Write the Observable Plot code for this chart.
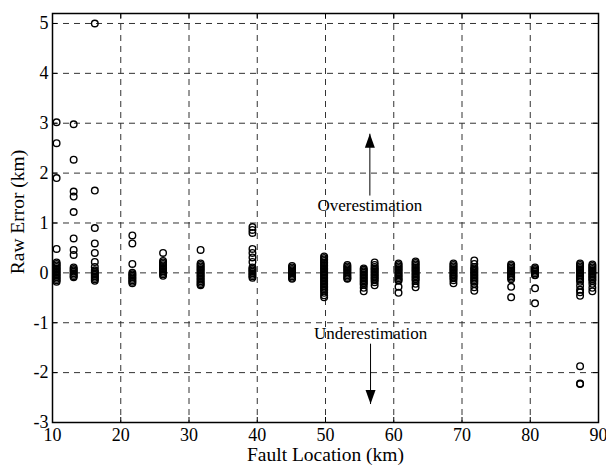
<!DOCTYPE html>
<html>
<head>
<meta charset="utf-8">
<script src="https://cdn.jsdelivr.net/npm/d3@7"></script>
<script src="https://cdn.jsdelivr.net/npm/@observablehq/plot@0.6"></script>
<style>
  html, body { margin: 0; padding: 0; background: white; }
</style>
</head>
<body>
<div id="chart"></div>
<script>
const xTicks = [10, 20, 30, 40, 50, 60, 70, 80, 90];
const yTicks = [-3, -2, -1, 0, 1, 2, 3, 4, 5];
const xLabel = "Fault Location (km)";
const yLabel = "Raw Error (km)";

const locations = [10.6, 13.1, 16.2, 21.7, 26.2, 31.7, 39.3, 45.1, 49.8, 53.2, 55.6, 57.2, 60.7, 63.2, 68.75, 71.8, 77.2, 80.7, 87.3, 89.1];

const errors = [
  [3.02, 2.6, 1.9, 0.48, 0.21, 0.18, 0.15, 0.12, 0.09, 0.06, 0.03, 0, -0.03, -0.06, -0.09, -0.12, -0.15, -0.18],
  [2.98, 2.27, 1.63, 1.53, 1.22, 0.69, 0.46, 0.36, 0.11, 0.08, 0.05, 0.02, -0.01, -0.04, -0.07, -0.09],
  [5.0, 1.65, 0.9, 0.59, 0.4, 0.22, 0.12, 0.05, 0.02, -0.01, -0.04, -0.07, -0.1, -0.13, -0.16],
  [0.75, 0.59, 0.18, 0.0, -0.03, -0.06, -0.09, -0.12, -0.15, -0.18, -0.21],
  [0.4, 0.24, 0.21, 0.18, 0.15, 0.12, 0.09, 0.06, 0.03, 0, -0.03, -0.06],
  [0.46, 0.19, 0.16, 0.13, 0.1, 0.07, 0.04, 0.01, -0.02, -0.05, -0.08, -0.11, -0.14, -0.17, -0.2, -0.23, -0.25],
  [0.92, 0.86, 0.8, 0.48, 0.4, 0.31, 0.22, 0.11, 0.08, 0.05, 0.02, -0.01, -0.04, -0.07, -0.1],
  [0.14, 0.11, 0.08, 0.05, 0.02, -0.01, -0.04, -0.07, -0.1, -0.12],
  [0.33, 0.3, 0.27, 0.24, 0.21, 0.18, 0.15, 0.12, 0.09, 0.06, 0.03, 0, -0.03, -0.06, -0.09, -0.12, -0.15, -0.18, -0.21, -0.24, -0.27, -0.3, -0.33, -0.36, -0.4, -0.45, -0.49],
  [0.16, 0.13, 0.1, 0.07, 0.04, 0.01, -0.02, -0.05, -0.08, -0.11, -0.12],
  [0.09, 0.06, 0.03, 0, -0.03, -0.06, -0.09, -0.12, -0.15, -0.18, -0.21, -0.24, -0.3, -0.37],
  [0.21, 0.16, 0.12, 0.09, 0.06, 0.03, 0, -0.03, -0.06, -0.09, -0.12, -0.15, -0.19, -0.25],
  [0.19, 0.16, 0.13, 0.1, 0.07, 0.04, 0.01, -0.02, -0.05, -0.08, -0.11, -0.14, -0.16, -0.28, -0.4],
  [0.23, 0.2, 0.17, 0.14, 0.11, 0.08, 0.05, 0.02, -0.01, -0.04, -0.07, -0.1, -0.13, -0.16, -0.22, -0.29],
  [0.19, 0.16, 0.13, 0.1, 0.07, 0.04, 0.01, -0.02, -0.05, -0.08, -0.11, -0.15, -0.21],
  [0.25, 0.18, 0.12, 0.09, 0.06, 0.03, 0, -0.03, -0.06, -0.09, -0.12, -0.15, -0.18, -0.22, -0.29, -0.36],
  [0.17, 0.14, 0.11, 0.08, 0.05, 0.02, -0.01, -0.04, -0.07, -0.1, -0.13, -0.28, -0.49],
  [0.11, 0.08, 0.05, 0.02, -0.01, -0.04, -0.05, -0.31, -0.61],
  [0.19, 0.16, 0.13, 0.1, 0.07, 0.04, 0.01, -0.02, -0.05, -0.08, -0.11, -0.14, -0.18, -0.26, -0.34, -0.39, -0.46, -1.87, -2.22, -2.23],
  [0.17, 0.14, 0.11, 0.08, 0.05, 0.02, -0.01, -0.04, -0.07, -0.1, -0.13, -0.16, -0.22, -0.3, -0.37]
];

const annoLabels = ["Overestimation", "Underestimation"];
const annoX = [56.5, 56.6];
const annoY = [1.355, -1.21];
const arrowX = [56.5, 56.6];
const arrowFrom = [1.55, -1.42];
const arrowTo = [2.79, -2.63];

// build tables
const points = [];
locations.forEach((loc, i) => errors[i].forEach(e => points.push({x: loc, y: e})));
const annos = annoLabels.map((t, i) => ({text: t, x: annoX[i], y: annoY[i]}));
const arrows = arrowX.map((x, i) => ({x, from: arrowFrom[i], to: arrowTo[i]}));

const W = 606, H = 465, mL = 52, mR = 8, mT = 13, mB = 43;
const innerW = W - mL - mR, innerH = H - mT - mB;

const headUp = {
  draw(ctx, size) {
    const k = Math.sqrt(size / Math.PI) / 7;
    ctx.moveTo(0, 0); ctx.lineTo(5 * k, 14 * k); ctx.lineTo(-5 * k, 14 * k); ctx.closePath();
  }
};
const headDown = {
  draw(ctx, size) {
    const k = Math.sqrt(size / Math.PI) / 7;
    ctx.moveTo(0, 0); ctx.lineTo(5 * k, -14 * k); ctx.lineTo(-5 * k, -14 * k); ctx.closePath();
  }
};

const font = "'Liberation Serif', 'Times New Roman', Times, serif";

const chart = Plot.plot({
  width: W, height: H,
  marginLeft: mL, marginRight: mR, marginTop: mT, marginBottom: mB,
  style: {fontFamily: font, fontSize: "18px", background: "white", color: "black", overflow: "visible"},
  x: {domain: [10, 90]},
  y: {domain: [-3, 5.2]},
  marks: [
    Plot.ruleX(xTicks.slice(1, -1), {stroke: "#333", strokeWidth: 1, strokeDasharray: "6,5"}),
    Plot.ruleY(yTicks.slice(1), {stroke: "#333", strokeWidth: 1, strokeDasharray: "6,5"}),
    Plot.dot(points, {x: "x", y: "y", r: 3.3, stroke: "black", strokeWidth: 1.4, fill: "none"}),
    Plot.tickX(xTicks, {x: d => d, insetTop: innerH - 5, stroke: "black"}),
    Plot.tickX(xTicks, {x: d => d, insetBottom: innerH - 5, stroke: "black"}),
    Plot.tickY(yTicks, {y: d => d, insetLeft: innerW - 5, stroke: "black"}),
    Plot.tickY(yTicks, {y: d => d, insetRight: innerW - 5, stroke: "black"}),
    Plot.frame({stroke: "black", strokeWidth: 1.5}),
    Plot.axisX(xTicks, {tickSize: 0, tickPadding: 6, label: null, tickFormat: d => String(d), fontSize: 18}),
    Plot.axisY(yTicks, {tickSize: 0, tickPadding: 4, label: null, tickFormat: d => String(d), fontSize: 18}),
    Plot.text([xLabel], {text: d => d, frameAnchor: "bottom", textAnchor: "middle", lineAnchor: "middle", dy: 32, fontSize: 19.5}),
    Plot.text([yLabel], {text: d => d, frameAnchor: "left", textAnchor: "middle", lineAnchor: "middle", rotate: -90, dx: -34.7, dy: -6, fontSize: 19.5}),
    Plot.link(arrows, {x1: "x", x2: "x", y1: "from", y2: "to", stroke: "black", strokeWidth: 1}),
    Plot.dot(arrows.filter(a => a.to > a.from), {x: "x", y: "to", r: 7, symbol: headUp, fill: "black", stroke: "none"}),
    Plot.dot(arrows.filter(a => a.to < a.from), {x: "x", y: "to", r: 7, symbol: headDown, fill: "black", stroke: "none"}),
    Plot.text(annos, {x: "x", y: "y", text: "text", fontSize: 17, fill: "black"})
  ]
});

document.getElementById("chart").appendChild(chart);
</script>
</body>
</html>
